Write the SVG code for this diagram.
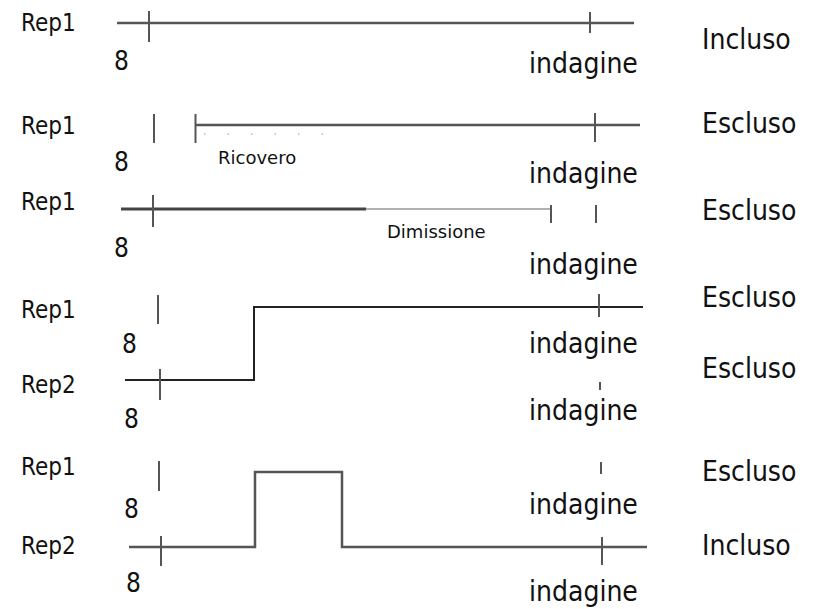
<svg xmlns="http://www.w3.org/2000/svg" width="816" height="609" viewBox="0 0 816 609">
<style>
text{font-family:"DejaVu Sans Condensed","DejaVu Sans",sans-serif;fill:#111}
.big{font-size:28px}
.rep{font-size:24px}
.num{font-size:26px}
.small{font-family:"DejaVu Sans",sans-serif;font-size:18px}
.ln{stroke:#555;stroke-width:2.5;fill:none}
.dk{stroke:#222;stroke-width:2;fill:none}
.tk{stroke:#555;stroke-width:2}
.lt{stroke:#999;stroke-width:1.5}
.dot{stroke:#bbb;stroke-width:1.5;stroke-dasharray:1.5 22}
</style>
<rect width="816" height="609" fill="#fff"/>
<g id="row1">
<text class="rep" x="21" y="31">Rep1</text>
<text class="num" x="114" y="70">8</text>
<text class="big" x="529" y="73">indagine</text>
<text class="big" x="702" y="49">Incluso</text>
</g>
<g id="row2">
<text class="rep" x="21" y="134">Rep1</text>
<text class="num" x="114" y="171">8</text>
<text class="small" x="218" y="164">Ricovero</text>
<text class="big" x="529" y="183">indagine</text>
<text class="big" x="702" y="133">Escluso</text>
</g>
<g id="row3">
<text class="rep" x="21" y="210">Rep1</text>
<text class="num" x="114" y="257">8</text>
<text class="small" x="387" y="238">Dimissione</text>
<text class="big" x="529" y="274">indagine</text>
<text class="big" x="702" y="220">Escluso</text>
</g>
<g id="row4">
<text class="rep" x="21" y="318">Rep1</text>
<text class="num" x="122" y="353">8</text>
<text class="big" x="529" y="353">indagine</text>
<text class="big" x="702" y="307">Escluso</text>
<text class="rep" x="21" y="393">Rep2</text>
<text class="num" x="124" y="428">8</text>
<text class="big" x="529" y="420">indagine</text>
<text class="big" x="702" y="378">Escluso</text>
</g>
<g id="row5">
<text class="rep" x="21" y="475">Rep1</text>
<text class="num" x="124" y="518">8</text>
<text class="big" x="529" y="514">indagine</text>
<text class="big" x="702" y="481">Escluso</text>
<text class="rep" x="21" y="554">Rep2</text>
<text class="num" x="126" y="592">8</text>
<text class="big" x="529" y="601">indagine</text>
<text class="big" x="702" y="555">Incluso</text>
</g>
<g id="connectors">
<line class="ln" x1="117" y1="23" x2="634" y2="23"/>
<line class="tk" x1="149" y1="11" x2="149" y2="42"/>
<line class="tk" x1="590" y1="12" x2="590" y2="33"/>

<line class="tk" x1="154" y1="114" x2="154" y2="143"/>
<line class="tk" x1="195.5" y1="114" x2="195.5" y2="143"/>
<line class="ln" x1="195" y1="125" x2="640" y2="125"/>
<line class="dot" x1="204" y1="134" x2="345" y2="134"/>
<line class="tk" x1="595" y1="113" x2="595" y2="142"/>

<line class="ln" x1="121" y1="209" x2="366" y2="209" style="stroke:#444;stroke-width:3"/>
<line class="lt" x1="366" y1="209" x2="550" y2="209"/>
<line class="tk" x1="153" y1="195" x2="153" y2="227"/>
<line class="tk" x1="551" y1="205" x2="551" y2="223"/>
<line class="tk" x1="596" y1="205" x2="596" y2="223"/>

<line class="tk" x1="158" y1="295" x2="158" y2="324"/>
<polyline class="dk" points="125,380 254,380 254,307 643,307"/>
<line class="tk" x1="599" y1="294" x2="599" y2="317"/>
<line class="tk" x1="160" y1="369" x2="160" y2="400"/>
<line class="tk" x1="600" y1="382" x2="600" y2="390"/>

<line class="tk" x1="159" y1="461" x2="159" y2="491"/>
<line class="tk" x1="601" y1="462" x2="601" y2="474"/>
<polyline class="ln" points="129,547 255,547 255,472 342,472 342,547 647,547"/>
<line class="tk" x1="161" y1="536" x2="161" y2="566"/>
<line class="tk" x1="602" y1="537" x2="602" y2="565"/>
</g>
</svg>
